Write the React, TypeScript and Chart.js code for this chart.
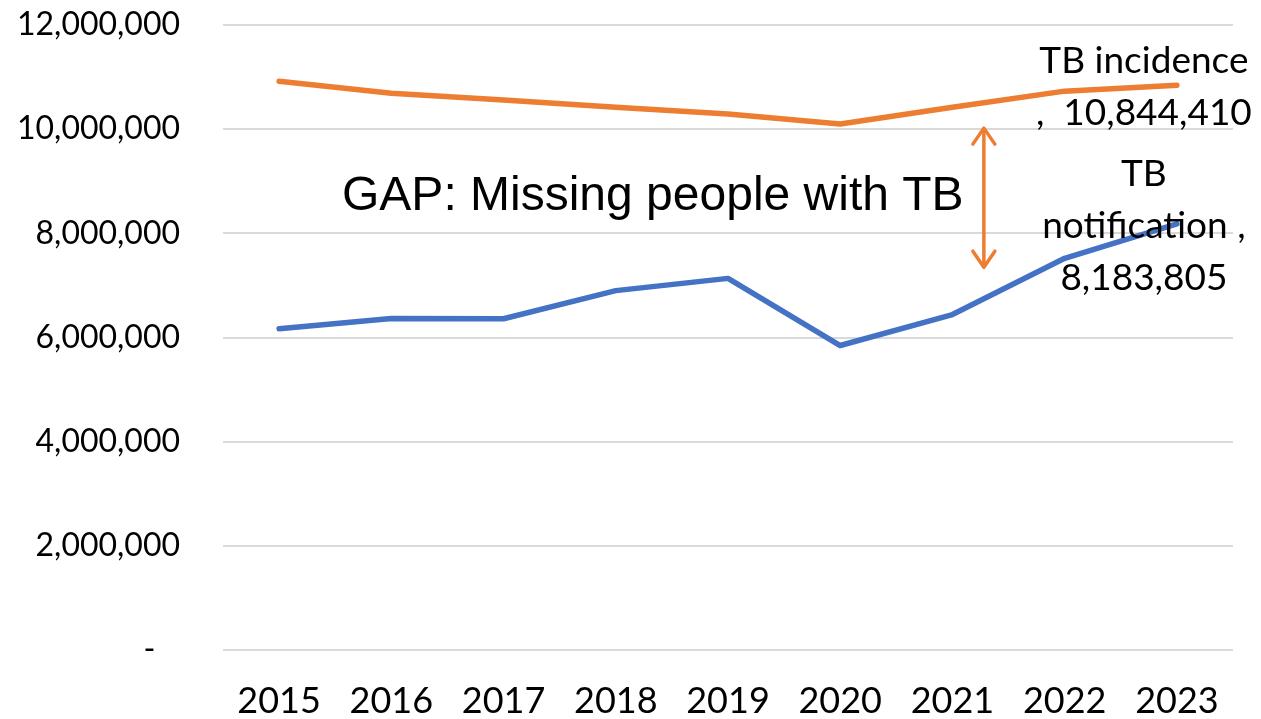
import React, { useEffect, useRef } from 'react';
import { Chart, registerables } from 'chart.js';

Chart.register(...registerables);

const years = ['2015', '2016', '2017', '2018', '2019', '2020', '2021', '2022', '2023'];
const incidence = [10920000, 10690000, 10560000, 10420000, 10290000, 10100000, 10420000, 10730000, 10844410];
const notification = [6170000, 6365000, 6360000, 6900000, 7135000, 5846000, 6440000, 7520000, 8183805];
const seriesNames = ['TB incidence', 'TB notification'];
const seriesColors = ['#ED7D31', '#4472C4'];
const yMin = 0;
const yMax = 12000000;
const yStep = 2000000;
const gapText = 'GAP: Missing people with TB';
const gapAnchorX = 3.33; // category index
const gapAnchorY = 8700000;
const arrowX = 6.28; // category index
const arrowTop = 10020000;
const arrowBottom = 7350000;

const fmt = (v: number) => v.toLocaleString('en-US');

const overlayPlugin = {
  id: 'overlay',
  afterDatasetsDraw(chart: any) {
    const ctx = chart.ctx;
    const xs = chart.scales.x;
    const ys = chart.scales.y;
    ctx.save();
    // data labels on last points
    ctx.fillStyle = '#000';
    ctx.font = '37px Lato';
    ctx.textAlign = 'center';
    ctx.textBaseline = 'middle';
    const lh = 52;
    const labelLines = [
      [seriesNames[0], ',  ' + fmt(incidence[incidence.length - 1])],
      [seriesNames[1].split(' ')[0], seriesNames[1].split(' ')[1] + ' ,', fmt(notification[notification.length - 1])],
    ];
    labelLines.forEach((lines, di) => {
      const meta = chart.getDatasetMeta(di);
      const pt = meta.data[meta.data.length - 1];
      const cx = pt.x - 33;
      const cy = pt.y + 2;
      const startY = cy - ((lines.length - 1) * lh) / 2;
      lines.forEach((t, i) => ctx.fillText(t, cx, startY + i * lh));
    });

    // GAP text
    ctx.font = '48px "Liberation Sans", Arial, sans-serif';
    const gx = xs.getPixelForValue(0) + gapAnchorX * (xs.getPixelForValue(1) - xs.getPixelForValue(0));
    ctx.fillText(gapText, gx, ys.getPixelForValue(gapAnchorY));

    // double-headed arrow
    const ax = xs.getPixelForValue(0) + arrowX * (xs.getPixelForValue(1) - xs.getPixelForValue(0));
    const at = ys.getPixelForValue(arrowTop);
    const ab = ys.getPixelForValue(arrowBottom);
    ctx.strokeStyle = '#ED7D31';
    ctx.lineWidth = 3.5;
    ctx.lineCap = 'round';
    ctx.lineJoin = 'round';
    ctx.beginPath();
    ctx.moveTo(ax, at + 1);
    ctx.lineTo(ax, ab - 1);
    ctx.stroke();
    const hw = 11;
    const hl = 16;
    ctx.beginPath();
    ctx.moveTo(ax - hw, at + hl);
    ctx.lineTo(ax, at);
    ctx.lineTo(ax + hw, at + hl);
    ctx.stroke();
    ctx.beginPath();
    ctx.moveTo(ax - hw, ab - hl);
    ctx.lineTo(ax, ab);
    ctx.lineTo(ax + hw, ab - hl);
    ctx.stroke();
    ctx.restore();
  },
};

export default function App() {
  const ref = useRef<HTMLCanvasElement | null>(null);
  useEffect(() => {
    document.body.style.margin = '0';
    const canvas = ref.current!;
    const chart = new Chart(canvas, {
      type: 'line',
      data: {
        labels: years,
        datasets: [
          {
            label: seriesNames[0],
            data: incidence,
            borderColor: seriesColors[0],
            backgroundColor: seriesColors[0],
            borderWidth: 5.5,
            pointRadius: 0,
            tension: 0,
            borderCapStyle: 'round',
            borderJoinStyle: 'round',
          },
          {
            label: seriesNames[1],
            data: notification,
            borderColor: seriesColors[1],
            backgroundColor: seriesColors[1],
            borderWidth: 5.5,
            pointRadius: 0,
            tension: 0,
            borderCapStyle: 'round',
            borderJoinStyle: 'round',
          },
        ],
      },
      options: {
        responsive: false,
        animation: false,
        layout: { padding: { top: 25, right: 28, bottom: 0, left: 0 } },
        plugins: { legend: { display: false }, tooltip: { enabled: false } },
        scales: {
          x: {
            offset: true,
            grid: { display: false, drawTicks: false },
            border: { display: false },
            ticks: {
              color: '#000',
              font: { family: 'Lato', size: 36 },
              padding: 30,
              maxRotation: 0,
              autoSkip: false,
            },
            afterFit: (s: any) => {
              s.height = 69;
              s.paddingLeft = 0;
              s.paddingRight = 0;
            },
          },
          y: {
            min: yMin,
            max: yMax,
            grid: { color: '#D9D9D9', lineWidth: 2, drawTicks: false },
            border: { display: false },
            ticks: {
              stepSize: yStep,
              color: '#000',
              font: { family: 'Lato', size: 32 },
              padding: 43,
              callback: (v: any) => (Number(v) === 0 ? '-   ' : fmt(Number(v))),
            },
            afterFit: (s: any) => {
              s.width = 223;
              s.paddingTop = 0;
              s.paddingBottom = 0;
            },
          },
        },
      },
      plugins: [overlayPlugin],
    } as any);
    return () => chart.destroy();
  }, []);
  return (
    <div style={{ width: 1261, height: 719, background: '#fff' }}>
      <canvas ref={ref} width={1261} height={719} style={{ display: 'block' }} />
    </div>
  );
}
